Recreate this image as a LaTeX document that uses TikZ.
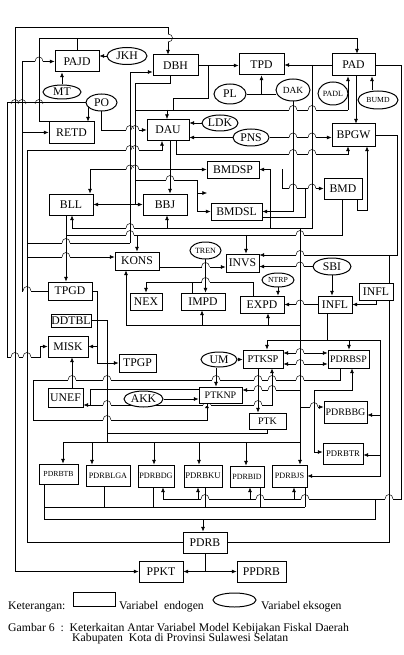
\documentclass[tikz,border=0pt]{standalone}
\usepackage{fontspec}
\setmainfont{Liberation Serif}
\usetikzlibrary{shapes.geometric,arrows.meta,backgrounds}
\newcommand{\fs}[1]{\fontsize{#1}{#1}\selectfont}
% horizontal line hops over a vertical one
\newcommand{\hoph}[2]{%
  \fill[white] ({#1-4},{#2-1.3}) rectangle ({#1+4},{#2+1.3});
  \draw ({#1},{#2-1.6}) -- ({#1},{#2+1.6});
  \draw ({#1-4},{#2}) .. controls ({#1-4},{#2-6}) and ({#1+4},{#2-6}) .. ({#1+4},{#2});}
% vertical line hops over a horizontal one
\newcommand{\hopv}[2]{%
  \fill[white] ({#1-1.3},{#2-4}) rectangle ({#1+1.3},{#2+4});
  \draw ({#1-1.6},{#2}) -- ({#1+1.6},{#2});
  \draw ({#1},{#2-4}) .. controls ({#1+6},{#2-4}) and ({#1+6},{#2+4}) .. ({#1},{#2+4});}
\tikzset{
  box/.style={draw, line width=0.85pt, inner sep=0pt, fill=white, font=\fs{10}},
  exo/.style={draw, ellipse, line width=0.85pt, inner sep=0pt, fill=white, font=\fs{10}},
  arr/.style={-{Latex[length=4pt,width=3.4pt]}},
  arrtwo/.style={{Latex[length=4pt,width=3.4pt]}-{Latex[length=4pt,width=3.4pt]}},
  txt/.style={inner sep=0pt, anchor=west, font=\fs{10}},
}

\begin{document}
\begin{tikzpicture}[x=0.3mm,y=-0.3mm,line width=0.85pt]
\useasboundingbox (0,0) rectangle (403,655);

% endogen
\node (PAJD) [box, minimum width=13.2mm, minimum height=6.3mm] at (77,61.5) {PAJD};
\node (DBH) [box, minimum width=13.5mm, minimum height=6.3mm] at (175.5,65.5) {DBH};
\node (TPD) [box, minimum width=13.5mm, minimum height=6.3mm] at (261.5,64.5) {TPD};
\node (PAD) [box, minimum width=12.9mm, minimum height=6.6mm] at (353.5,65) {PAD};
\node (RETD) [box, minimum width=13.5mm, minimum height=6.3mm] at (71.5,132.5) {RETD};
\node (DAU) [box, minimum width=12.6mm, minimum height=6.3mm] at (168,130) {DAU};
\node (BPGW) [box, minimum width=12.9mm, minimum height=6.6mm] at (353.5,135) {BPGW};
\node (BMDSP) [box, minimum width=15.6mm, minimum height=5.1mm] at (233,169.5) {BMDSP};
\node (BMD) [box, minimum width=11.4mm, minimum height=6.3mm] at (343,188.5) {BMD};
\node (BMDSL) [box, minimum width=15.3mm, minimum height=5.1mm] at (236.5,211.5) {BMDSL};
\node (BLL) [box, minimum width=13.2mm, minimum height=6.3mm] at (71,204.5) {BLL};
\node (BBJ) [box, minimum width=13.2mm, minimum height=6.3mm] at (165,204.5) {BBJ};
\node (KONS) [box, minimum width=13.2mm, minimum height=5.4mm] at (137,261) {KONS};
\node (INVS) [box, minimum width=9.9mm, minimum height=5.4mm] at (242.5,263) {INVS};
\node (NEX) [box, minimum width=9.6mm, minimum height=5.1mm] at (146,301.5) {NEX};
\node (IMPD) [box, minimum width=13.2mm, minimum height=5.1mm] at (203,301.5) {IMPD};
\node (EXPD) [box, minimum width=13.2mm, minimum height=5.1mm] at (262,304.5) {EXPD};
\node (INFL) [box, minimum width=10.2mm, minimum height=5.1mm] at (335,304.5) {INFL};
\node (INFLX) [box, minimum width=10.2mm, minimum height=5.1mm] at (376,291.5) {INFL};
\node (TPGD) [box, minimum width=13.2mm, minimum height=5.4mm] at (70,291) {TPGD};
\node (DDTBL) [box, minimum width=12mm, minimum height=3.9mm] at (71,320.5) {DDTBL};
\node (MISK) [box, minimum width=12mm, minimum height=6.3mm] at (68,346.5) {MISK};
\node (TPGP) [box, minimum width=11.1mm, minimum height=5.4mm] at (137.5,363) {TPGP};
\node (UNEF) [box, minimum width=10.5mm, minimum height=5.7mm] at (65.5,397.5) {UNEF};
\node (PTKSP) [box, minimum width=12mm, minimum height=5.4mm, font=\fs{8.8}] at (263,359) {PTKSP};
\node (PDRBSP) [box, minimum width=12.3mm, minimum height=5.4mm, font=\fs{8.4}] at (348.5,359) {PDRBSP};
\node (PTKNP) [box, minimum width=12.9mm, minimum height=4.8mm, font=\fs{8.5}] at (220.5,395) {PTKNP};
\node (PTK) [box, minimum width=11.1mm, minimum height=4.8mm, font=\fs{8.5}] at (267.5,421) {PTK};
\node (PDRBBG) [box, minimum width=12.9mm, minimum height=6.6mm, font=\fs{8.5}] at (345.5,412) {PDRBBG};
\node (PDRBTR) [box, minimum width=12mm, minimum height=6.3mm, font=\fs{7.4}] at (343,453.5) {PDRBTR};
\node (PDRBTB) [box, minimum width=11.7mm, minimum height=6mm, font=\fs{6.6}] at (58.5,474) {PDRBTB};
\node (PDRBLGA) [box, minimum width=13.2mm, minimum height=6.3mm, font=\fs{7}] at (108,475.5) {PDRBLGA};
\node (PDRBDG) [box, minimum width=10.8mm, minimum height=6.6mm, font=\fs{7}] at (156,476) {PDRBDG};
\node (PDRBKU) [box, minimum width=11.4mm, minimum height=6.6mm, font=\fs{7.4}] at (203,476) {PDRBKU};
\node (PDRBID) [box, minimum width=10.2mm, minimum height=6.3mm, font=\fs{6.8}] at (247,476.5) {PDRBID};
\node (PDRBJS) [box, minimum width=10.5mm, minimum height=6.6mm, font=\fs{7}] at (289.5,476) {PDRBJS};
\node (PDRB) [box, minimum width=13.2mm, minimum height=6.3mm] at (205,542.5) {PDRB};
\node (PPKT) [box, minimum width=13.2mm, minimum height=6.3mm] at (161,571.5) {PPKT};
\node (PPDRB) [box, minimum width=14.7mm, minimum height=6.3mm] at (261.5,571.5) {PPDRB};

% eksogen
\node (JKH) [exo, minimum width=12mm, minimum height=5.1mm] at (127,56) {JKH};
\node (MT) [exo, minimum width=11.4mm, minimum height=4.2mm] at (62,92) {MT};
\node (PO) [exo, minimum width=9.3mm, minimum height=5.1mm] at (101.5,102.5) {PO};
\node (PL) [exo, minimum width=9.6mm, minimum height=6mm] at (230,94) {PL};
\node (DAK) [exo, minimum width=10.2mm, minimum height=6.6mm, font=\fs{8}] at (293,90) {DAK};
\node (PADL) [exo, minimum width=9mm, minimum height=6.9mm, font=\fs{6.8}] at (333,93.5) {PADL};
\node (BUMD) [exo, minimum width=12mm, minimum height=5.4mm, font=\fs{6.6}] at (378,100) {BUMD};
\node (LDK) [exo, minimum width=10.8mm, minimum height=4.8mm] at (220,123) {LDK};
\node (PNS) [exo, minimum width=10.8mm, minimum height=5.1mm] at (251,137.5) {PNS};
\node (TREN) [exo, minimum width=9.3mm, minimum height=5.1mm, font=\fs{6.8}] at (205.5,250.5) {TREN};
\node (SBI) [exo, minimum width=11.4mm, minimum height=5.1mm] at (332,266.5) {SBI};
\node (NTRP) [exo, minimum width=9.6mm, minimum height=4.2mm, font=\fs{6.6}] at (278,280) {NTRP};
\node (UM) [exo, minimum width=10.8mm, minimum height=4.5mm] at (219,359.5) {UM};
\node (AKK) [exo, minimum width=11.7mm, minimum height=4.8mm] at (143.5,399) {AKK};

\begin{pgfonlayer}{background}
% penerimaan
\draw[arr] (15,300) |- (PPKT.west);
\draw[arr] (15,300) -- (15,27) -| (DBH.north -| 168,0);
\draw[arr] (RETD.north west) -| (39,38) -| (PAD.north -| 357,0);
\draw (PAJD.north) -- (PAJD.north |- 0,38);
\draw[arr] (TPGD.west) -| (22,61.5) -- (PAJD.west);
\draw[arr] (22,132.5) -- (RETD.west);
\draw[arr] (MT.north) -- (MT.north |- PAJD.south);
\draw[arr] (JKH.west) -- (JKH.west -| PAJD.east);
\draw[arr] (PO.west) -| (RETD.north -| 88,0);
\draw[arr] (PO.west) -| (7,357) -| (40,346.5) -- (MISK.west);
\draw[arr] (PO.south) |- (DAU.west);
\draw[arr] (DBH.east) -- (DBH.east -| TPD.west);
\draw[arr] (PAD.west) -- (PAD.west -| TPD.east);
\draw (PL.east) -- (PL.east -| DAK.west);
\draw[arr] (TPD.south |- PL.east) -- (TPD.south);
\draw (DBH.east -| 208,0) |- (173,98) -- (173,110);
\draw (135,110) -- (348,110);
\draw[arr] (167,110) -- (DAU.north -| 167,0);
\draw[arr] (348,110) -- (PAD.south -| 348,0);
\draw (DBH.south -| 170,0) |- (135,83) -- (135,204.5);
\draw[arr] (135,204.5) -- (BLL.east);
\draw[arr] (135,204.5) -- (BBJ.west);
\draw (27,243) -- (130,243);
\draw[arr] (130,243) |- (DBH.west |- 0,72);
\draw[arr] (LDK.west) -- (LDK.west -| DAU.east);
\draw[arr] (PNS.west) -- (PNS.west -| DAU.east);
\draw[arr] (PNS.east) -- (PNS.east -| BPGW.west);
\draw[arr] (PAD.south -| 356,0) -- (BPGW.north -| 356,0);
\draw[arr] (BUMD.north -| 372,0) -- (PAD.south -| 372,0);
% belanja
\draw[arr] (DAU.south -| 170,0) -- (BBJ.north -| 170,0);
\draw[arrtwo] (BMDSP.west) -| (BLL.north -| 90,0);
\draw[arr] (DAU.south -| 176,0) |- (348,154) -- (BPGW.south -| 348,0);
\draw[arr] (PDRB.west) -| (27,150) -| (DAU.south -| 162,0);
\draw[arr] (135,180) -| (197,211.5) -- (BMDSL.west);
\draw[arr] (197,193) -- (207,193);
\draw[arr] (PAD.west -| 312,0) |- (72,228) -- (BLL.south -| 72,0);
\draw[arr] (167,228) -- (BBJ.south -| 167,0);
\draw[arr] (270,228) |- (BMDSP.east);
\draw[arr] (DAK.south) |- (BMDSL.east);
\draw[arr] (BMDSP.east -| 282,0) |- (BMD.west);
\draw (BMDSL.east |- 0,217) -| (305,188.5);
\draw[arr] (BMD.south -| 357,0) |- (367,210) -- (BPGW.south -| 367,0);
\draw[arr] (BLL.south -| 66,0) -- (TPGD.north -| 66,0);
\draw (66,235) -| (BMD.south -| 342,0);
\draw[arr] (137,235) -- (KONS.north);
\draw[arr] (246,235) -- (INVS.north -| 246,0);
% permintaan agregat
\draw[arr] (BPGW.east) -| (397,255) -- (INVS.east |- 0,255);
\draw (PDRB.east) -| (389,255);
\draw[arr] (SBI.west) -- (SBI.west -| INVS.east);
\draw[arr] (SBI.south) -- (INFL.north -| SBI.south);
\draw[arr] (INFLX.south) |- (INFL.east);
\draw[arr] (INFL.west) -- (EXPD.east);
\draw[arr] (NTRP.south) -- (NTRP.south |- EXPD.north);
\draw[arr] (TREN.south) -- (TREN.south |- IMPD.north);
\draw[arr] (KONS.east |- 0,267) -- (INVS.west |- 0,267);
\draw[arr] (EXPD.north -| 253,0) |- (146,282) -- (NEX.north);
\draw (IMPD.north -| 192,0) -- (192,282);
\draw[arr] (300,228) -- (PDRBJS.north -| 300,0);
\draw[arr] (300,325) -| (KONS.south -| 126,0);
\draw[arr] (202,325) -- (IMPD.south -| 202,0);
\draw[arr] (268,325) -- (EXPD.south -| 268,0);
% tenaga kerja
\draw (INFL.south -| 327,0) -- (327,340);
\draw[arr] (380,340) -- (267,340) -- (PTKSP.north -| 267,0);
\draw[arr] (349,340) -- (PDRBSP.north -| 349,0);
\draw[arr] (380,340) |- (PDRBBG.east |- 0,415);
\draw[arr] (380,415) |- (PDRBTR.east |- 0,455);
\draw[arr] (380,455) |- (PDRBJS.east);
\draw[arr] (UM.east) -- (UM.east -| PTKSP.west);
\draw[arr] (UM.south -| 216,0) -- (PTKNP.north -| 216,0);
\draw[arrtwo] (PTKSP.east |- 0,353) -- (PDRBSP.west |- 0,353);
\draw[arrtwo] (PTKSP.east |- 0,364) -- (PDRBSP.west |- 0,364);
\draw[arr] (PTKSP.south -| 258,0) -- (PTK.north -| 258,0);
\draw[arr] (PTKNP.west |- 0,389) -| (90,405) -- (UNEF.east |- 0,405);
\draw[arr] (90,405) -| (PTKSP.south -| 272,0);
\draw[arr] (300,390) -- (PTKNP.east |- 0,390);
\draw[arr] (PDRBSP.south -| 340,0) |- (33,380) -- (33,420) -| (PTKNP.south -| 207,0);
\draw[arrtwo] (PDRBSP.south -| 352,0) |- (314,390) |- (PDRBTR.west |- 0,452);
\draw[arr] (300,407) -- (PDRBBG.west |- 0,407);
\draw[arr] (UNEF.north -| 72,0) -- (MISK.south -| 72,0);
\draw[arr] (AKK.east) -- (AKK.east -| PTKNP.west);
\draw[arr] (TPGD.east) -| (97,346.5) -- (MISK.east);
\draw[arr] (97,346.5) |- (TPGP.west);
\draw (DDTBL.east) -| (107,433);
\draw (PTK.south) |- (107,433) -- (107,442);
\draw (63,442) -- (300,442);
\foreach \xx/\nn in {63/PDRBTB,92/PDRBLGA,154/PDRBDG,199/PDRBKU,246/PDRBID}
  \draw[arr] (\xx,442) -- (\nn.north -| \xx,0);
% PDRB sektoral
\draw (PDRBTB.south -| 44,0) |- (375,519) -- (375,499);
\draw[arr] (203,519) -- (PDRB.north -| 203,0);
\draw (44,507) -- (305,507);
\foreach \xx/\nn in {104/PDRBLGA,153/PDRBDG,205/PDRBKU,260/PDRBID,305/PDRBJS}
  \draw (\nn.south -| \xx,0) -- (\xx,507);
\draw (PAD.east) -| (401,499) -- (163,499);
\foreach \xx/\nn in {163/PDRBDG,198/PDRBKU,250/PDRBID,294/PDRBJS}
  \draw[arr] (\xx,499) -- (\nn.south -| \xx,0);
\draw[arr] (PDRB.south) |- (PPKT.east);
\draw[arr] (PDRB.south) |- (PPDRB.west);
\draw[arr] (27,257) -- (KONS.west |- 0,257);
% lompatan garis
\hopv{168}{38}
\foreach \hx/\hy in {39/61.5, 15/104, 22/104, 39/104, 130/130, 135/130,
    130/150, 135/150, 130/169.5, 135/169.5, 170/180, 130/228, 130/235,
    300/235, 66/243, 66/257, 27/291, 15/357, 27/357,
    300/380, 272/380, 258/380, 216/380, 107/380, 72/380,
    107/405, 207/405, 258/405, 107/420,
    205/499, 260/499, 305/499, 389/499,
    293/110, 312/110, 293/154, 312/154, 293/137.5, 312/137.5,
    293/188.5, 312/188.5, 300/255, 300/266.5, 300/304.5,
    205.5/267, 205.5/282, 300/353, 300/364, 258/390, 272/390, 314/407}
  {\hoph{\hx}{\hy}}
\end{pgfonlayer}

% keterangan
\node (ket) [txt] at (8,607) {Keterangan:};
\node (ketbox) [box, minimum width=12.6mm, minimum height=4.2mm] at (94,599) {};
\node (ketendo) [txt] at (119,607) {Variabel\ \ endogen};
\node (ketell) [exo, minimum width=12.9mm, minimum height=4.2mm] at (234.5,600) {};
\node (ketekso) [txt] at (261,607) {Variabel eksogen};
\node (cap1) [txt] at (8,629) {Gambar 6\ \ :\ \ Keterkaitan Antar Variabel Model Kebijakan Fiskal Daerah};
\node (cap2) [txt] at (72,639) {Kabupaten\ \ Kota di Provinsi Sulawesi Selatan};
\end{tikzpicture}
\end{document}
